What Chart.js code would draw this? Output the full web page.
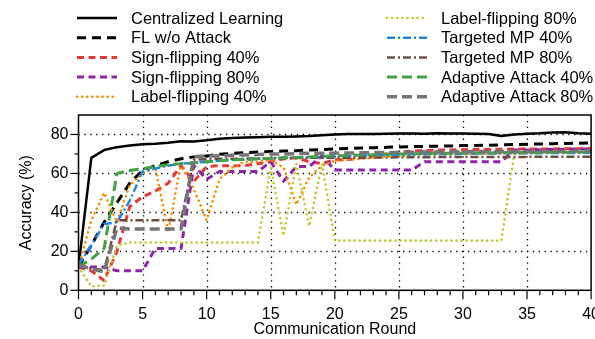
<!DOCTYPE html>
<html lang="en">
<head>
<meta charset="UTF-8">
<title>Accuracy vs Communication Round</title>
<script src="https://cdn.jsdelivr.net/npm/chart.js"></script>
<style>
  body { margin: 0; overflow: hidden; background: #fff; }
</style>
</head>
<body>
<canvas id="grafico" width="615" height="339"></canvas>
<script>
const rounds = [0,1,2,3,4,5,6,7,8,9,10,11,12,13,14,15,16,17,18,19,20,21,22,23,24,25,26,27,28,29,30,31,32,33,34,35,36,37,38,39,40]

const centralized = [12,68,72,73.5,74.3,75,75.3,75.8,76.5,76.4,77,77.8,78.2,78.4,78.6,78.8,78.8,79,79.2,79.6,80,80.2,80.3,80.3,80.4,80.5,80.5,80.4,80.6,80.5,80.5,80.4,80.2,79.2,80,80.4,80.6,81,81.2,80.6,80.4]
const flNoAttack = [12,23,35,45,55,61.5,64,66,67.5,68.5,69,69.8,70.3,70.7,71,71.3,71.5,71.7,72,72.3,72.6,72.8,73,73.2,73.4,73.6,73.8,73.9,74,74.1,74.3,74.4,74.5,74.7,74.8,75,75.1,75.3,75.4,75.5,75.6]
const signFlip40 = [12,10,5,20,43,48,51,55,64,56,63.5,64,64,64,65,66,67.5,68,66,65,67,67,68,69,70,71,71.5,71.8,72,72,72.2,72.3,72.3,72.4,72.5,72.5,72.6,72.6,72.7,72.7,72.8]
const signFlip80 = [12,12,12,10,10,10,21.5,21.5,21.5,64,57,61,61,61,61,66,56,63.5,63.5,69,61.7,61.7,61.7,61.7,61.7,61.7,61.7,66,66,66,66,66,66,66,72,72,72.2,72.3,72.4,72.5,72.5]
const labelFlip40 = [12,36,50,35,54,60,63,30,65,52,36,57,63,66,66,67,63,44,58,64,66.5,67,67.5,68,68.5,69,69.3,69.5,69.7,69.8,70,70.1,70.2,70.3,70.4,70.5,70.6,70.7,70.8,70.9,71]
const labelFlip80 = [12,2,2.5,23,24.5,24.5,24.5,24.5,24.5,24.5,24.5,24.5,24.5,24.5,24.5,63,28,65,33,65,25.5,25.5,25.5,25.5,25.5,25.5,25.5,25.5,25.5,25.5,25.5,25.5,25.5,25.5,70,70.5,70.5,70.7,70.8,71,71]
const targeted40 = [13,23,34,35,46,61,62.5,64,65,65.5,66,66.5,67,67,67.5,67.8,68,68,68.5,68.5,69,69,69.2,69.4,69.5,69.6,69.8,69.9,70,70,70.1,70.2,70.2,70.3,70.3,70.4,70.4,70.5,70.5,70.5,70.6]
const targeted80 = [13,11,10.5,36,36,36,36,36,36,67,67.3,67.5,67.5,67.6,67.7,67.8,67.8,67.9,68,68,68,68.1,68.1,68.2,68.2,68.3,68.3,68.3,68.4,68.4,68.4,68.5,68.5,68.5,68.5,68.5,68.6,68.6,68.6,68.6,68.6]
const adaptive40 = [12,16,21.5,60,61.5,62.5,63.5,64.5,65,65.5,66,66.5,67,67.2,67.5,67.8,68,68.2,68.5,68.8,69,69.2,69.4,69.6,69.8,70,70.1,70.2,70.3,70.4,70.5,70.6,70.6,70.7,70.7,70.8,70.8,70.9,70.9,71,71]
const adaptive80 = [13,11,9.5,32,31.5,31.5,31.5,31.5,31.5,68.5,69,69,69.3,69.5,69.7,70,70,70.2,70.3,70.3,70.4,70.5,70.6,70.7,70.8,70.8,70.9,71,71,71.1,71.1,71.2,71.2,71.3,71.3,71.3,71.4,71.4,71.4,71.5,71.5]

const xTicks = [0,5,10,15,20,25,30,35,40]
const yTicks = [0,20,40,60,80]

const pts = vals => vals.map((v, i) => ({ x: rounds[i], y: v }))

const serie = (label, vals, color, dash, width, cap) => ({
  label: label,
  data: pts(vals),
  borderColor: color,
  borderWidth: width,
  borderDash: dash,
  borderCapStyle: cap || 'butt',
  borderJoinStyle: 'round',
  pointRadius: 0,
  tension: 0,
  fill: false
})

const dot = [0.1, 5]

const conjuntos = [
  serie('Centralized Learning', centralized, '#000000', [], 2.5),
  serie('FL w/o Attack', flNoAttack, '#000000', [9, 6], 3),
  serie('Sign-flipping 40%', signFlip40, '#e53935', [7, 4.5], 3),
  serie('Sign-flipping 80%', signFlip80, '#8e24aa', [7, 4.5], 3),
  serie('Label-flipping 40%', labelFlip40, '#fb8c00', dot, 2.6, 'round'),
  serie('Label-flipping 80%', labelFlip80, '#c0ca33', dot, 2.6, 'round'),
  serie('Targeted MP 40%', targeted40, '#1e88e5', [8, 3, 2, 3], 2.5),
  serie('Targeted MP 80%', targeted80, '#6d4c41', [8, 3, 2, 3], 2.5),
  serie('Adaptive Attack 40%', adaptive40, '#43a047', [10, 5], 3),
  serie('Adaptive Attack 80%', adaptive80, '#757575', [10, 5], 3.5)
]
// ultimo por cima, como no original
conjuntos.forEach((d, i) => { d.order = conjuntos.length - i })

const linha = (ctx, x1, y1, x2, y2) => {
  ctx.beginPath(); ctx.moveTo(x1, y1); ctx.lineTo(x2, y2); ctx.stroke()
}

const moldura = {
  id: 'moldura',
  beforeDatasetsDraw(chart) {
    const { ctx, chartArea: a, scales: { x, y } } = chart
    ctx.save()
    ctx.strokeStyle = '#000'
    ctx.lineWidth = 1.3
    ctx.setLineDash([1.3, 4.6])
    xTicks.forEach(v => {
      if (v <= 0 || v >= 40) return
      const px = Math.round(x.getPixelForValue(v)) + 0.5
      linha(ctx, px, a.top, px, a.bottom)
    })
    yTicks.forEach(v => {
      if (v <= 0) return
      const py = Math.round(y.getPixelForValue(v)) + 0.5
      linha(ctx, a.left, py, a.right, py)
    })
    ctx.restore()
  },
  afterDatasetsDraw(chart) {
    const { ctx, chartArea: a, scales: { x, y } } = chart
    ctx.save()
    ctx.strokeStyle = '#000'
    ctx.lineWidth = 1.5
    ctx.setLineDash([])
    ctx.strokeRect(a.left, a.top, a.right - a.left, a.bottom - a.top)
    ctx.lineWidth = 1.2
    for (let v = 0; v <= 40; v++) {
      const px = x.getPixelForValue(v)
      linha(ctx, px, a.bottom, px, a.bottom + (v % 5 === 0 ? 9 : 5))
    }
    for (let v = 0; v <= 80; v += 10) {
      const py = y.getPixelForValue(v)
      linha(ctx, a.left, py, a.left - (v % 20 === 0 ? 8 : 4), py)
    }
    ctx.restore()
  },
  afterDraw(chart) {
    const ctx = chart.ctx
    ctx.save()
    ctx.font = '16.5px "Liberation Sans", Arial, sans-serif'
    ctx.fillStyle = '#000'
    ctx.textBaseline = 'middle'
    chart.data.datasets.forEach((ds, i) => {
      const col = i < 5 ? 0 : 1
      const yy = 18 + (i % 5) * 19.7
      const x0 = col ? 387 : 77
      ctx.strokeStyle = ds.borderColor
      ctx.lineWidth = ds.borderWidth
      ctx.setLineDash(ds.borderDash)
      ctx.lineCap = ds.borderCapStyle
      linha(ctx, x0, yy, x0 + 40, yy)
      ctx.fillText(ds.label, x0 + 54, yy + 1)
    })
    ctx.restore()
  }
}

Chart.defaults.font.family = '"Liberation Sans", Arial, Helvetica, sans-serif'
Chart.defaults.font.size = 16
Chart.defaults.color = '#000'

const ctx = document.getElementById('grafico')
const grafico = new Chart(ctx, {
  type: 'line',
  data: { datasets: conjuntos },
  options: {
    responsive: false,
    animation: false,
    layout: { autoPadding: false, padding: { top: 115, left: 3.4, right: 2, bottom: 0 } },
    plugins: { legend: { display: false }, tooltip: { enabled: false } },
    scales: {
      x: {
        type: 'linear', min: 0, max: 40,
        grid: { display: false, drawTicks: false }, border: { display: false },
        afterBuildTicks: s => { s.ticks = xTicks.map(v => ({ value: v })) },
        afterFit: s => { s.height = 48.7 },
        ticks: { padding: 15, maxRotation: 0, autoSkip: false },
        title: { display: true, text: 'Communication Round', padding: { top: 0, bottom: 0 } }
      },
      y: {
        min: 0, max: 90,
        grid: { display: false, drawTicks: false }, border: { display: false },
        afterBuildTicks: s => { s.ticks = yTicks.map(v => ({ value: v })) },
        afterFit: s => { s.width = 75.1 },
        ticks: { padding: 10 },
        title: { display: true, text: 'Accuracy (%)', padding: { top: 14, bottom: 14 } }
      }
    }
  },
  plugins: [moldura]
})
</script>
</body>
</html>
